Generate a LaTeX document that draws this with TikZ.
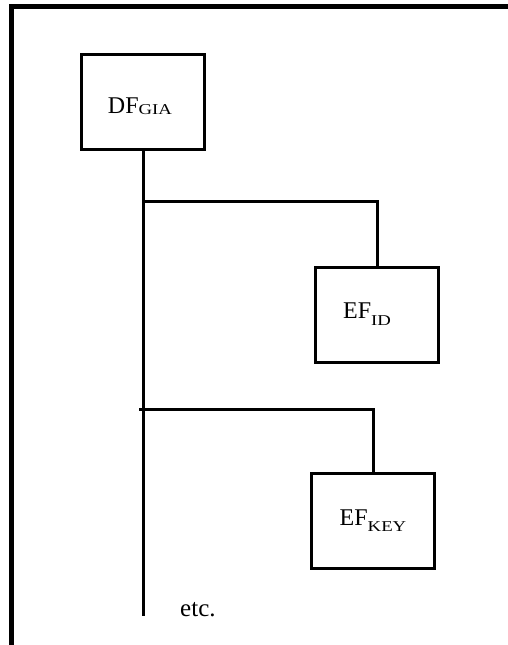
\documentclass[tikz,border=0pt]{standalone}
\usepackage{fontspec}
\setmainfont{Liberation Serif}
\usepackage{tikz}
\usetikzlibrary{positioning}

% name with a lowered, widened subscript
\newcommand{\filename}[3]{#1\raisebox{-#3}{\scalebox{1.25}[1]{\fontsize{15}{16}\selectfont #2}}}

\tikzset{
	filebox/.style={draw, line width=3pt, minimum width=123pt, minimum height=95pt,
		inner sep=0pt, font=\fontsize{24}{26}\selectfont},
	link/.style={line width=3pt},
}

\begin{document}
\begin{tikzpicture}[x=1pt, y=-1pt]
	\useasboundingbox (0,0) rectangle (508,645);
	\draw[line width=5pt] (11.5,645) -- (11.5,6.5) -- (508,6.5);
	\node[filebox, text height=23pt, text depth=0pt] (dfgia) at (143, 101.5) {\filename{DF}{GIA}{1pt}\hspace*{6pt}};
	\node[filebox] (efid)   at (377, 314.5) {\filename{EF}{ID}{7pt}\hspace*{20pt}};
	\node[filebox] (efkey)  at (373, 520.5) {\filename{EF}{KEY}{6pt}};
	\coordinate (trunkend) at (143, 616);
	\coordinate (brancha)  at (145, 201);
	\coordinate (branchb)  at (139, 409);
	\node[anchor=base west, inner sep=0pt, font=\fontsize{25}{27}\selectfont] (etc) at (180, 616) {etc.};
	\draw[link] (dfgia.south) -- (trunkend);
	\draw[link] (brancha) -| (efid.north);
	\draw[link] (branchb) -| (efkey.north);
\end{tikzpicture}
\end{document}
